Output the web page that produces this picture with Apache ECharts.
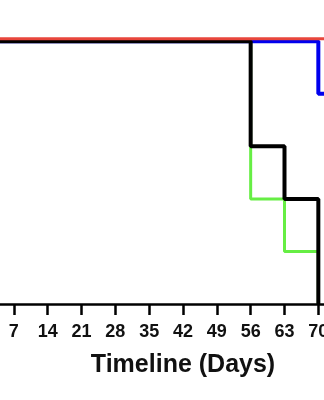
<!DOCTYPE html>
<html>
<head>
<meta charset="utf-8">
<script src="https://cdn.jsdelivr.net/npm/echarts@6/dist/echarts.min.js"></script>
<style>html,body{margin:0;padding:0;background:#fff;}#c{width:324px;height:400px;}</style>
</head>
<body>
<div id="c"></div>
<script>
// Timeline days where survival steps occur
const blackDays = [0, 56, 63, 70];
const blackPct = [100, 60, 40, 0];
const greenDays = [0, 56, 63, 70];
const greenPct = [100, 40, 20, 0];
const blueDays = [0, 70, 84];
const bluePct = [100, 80, 80];
const redDays = [0, 84];
const redPct = [101, 101];
const xTitle = 'Timeline (Days)';

const zip = (a, b) => a.map((v, i) => [v, b[i]]);

const chart = echarts.init(document.getElementById('c'), null, {renderer: 'canvas'});
chart.setOption({
  animation: false,
  backgroundColor: '#fff',
  grid: {left: -20, right: -62, top: 15, bottom: 96, containLabel: false, outerBoundsMode: 'none'},
  xAxis: {
    type: 'value', min: 0, max: 84, interval: 7,
    name: xTitle, nameLocation: 'middle', nameGap: 49,
    nameTextStyle: {fontFamily: 'Liberation Sans', fontWeight: 'bold', fontSize: 25, color: '#111'},
    axisLine: {lineStyle: {color: '#000', width: 2.5}},
    axisTick: {length: 11, lineStyle: {color: '#000', width: 2.5}},
    axisLabel: {margin: 19, fontFamily: 'Liberation Sans', fontWeight: 'bold', fontSize: 18, color: '#111'},
    splitLine: {show: false}
  },
  yAxis: {
    type: 'value', min: 0, max: 110, show: false,
    splitLine: {show: false}
  },
  series: [
    {type: 'line', step: 'end', data: zip(greenDays, greenPct), symbol: 'none', z: 2,
     lineStyle: {color: '#66ee44', width: 3}},
    {type: 'line', step: 'end', data: zip(blueDays, bluePct), symbol: 'none', z: 3,
     lineStyle: {color: '#0000ee', width: 4}},
    {type: 'line', step: 'end', data: zip(blackDays, blackPct), symbol: 'none', z: 4,
     lineStyle: {color: '#000', width: 4}},
    {type: 'line', step: 'end', data: zip(redDays, redPct), symbol: 'none', z: 5,
     lineStyle: {color: '#e8463c', width: 3}}
  ]
});
</script>
</body>
</html>
